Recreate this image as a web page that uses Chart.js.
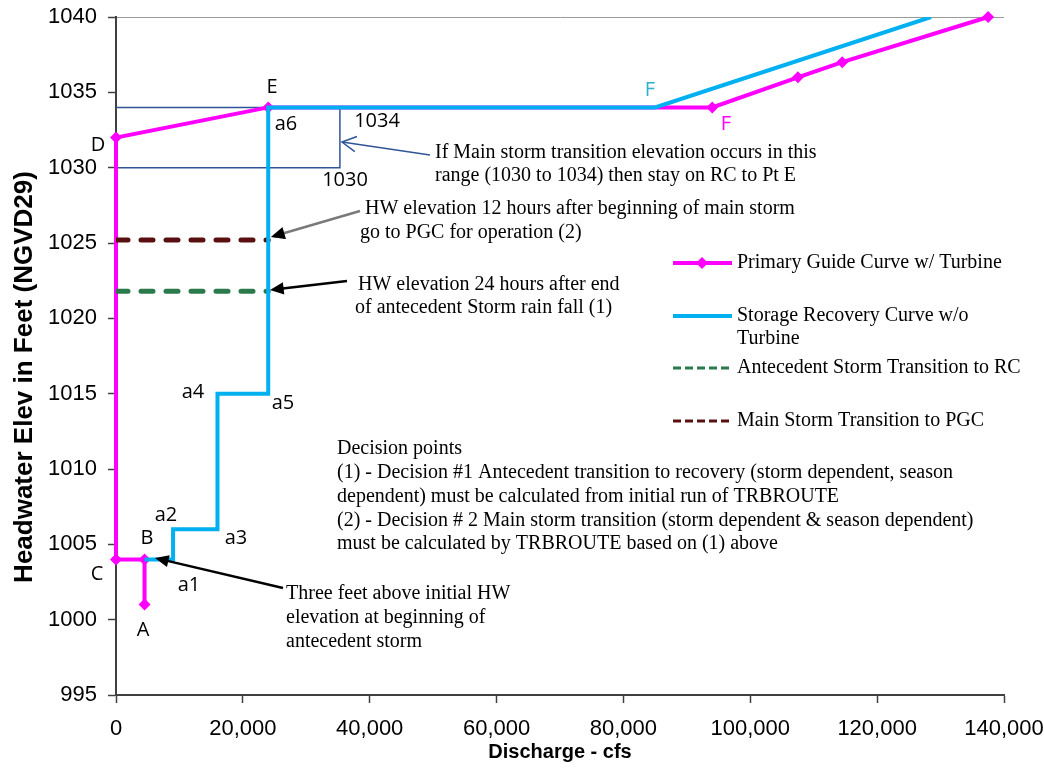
<!DOCTYPE html>
<html>
<head>
<meta charset="utf-8">
<title>Guide curve</title>
<script src="https://cdn.jsdelivr.net/npm/chart.js@4.4.1/dist/chart.umd.min.js"></script>
<style>
    html, body { margin: 0; padding: 0; background: #fff; }
    #wrap { width: 1044px; height: 769px; }
</style>
</head>
<body>
<div id="wrap"><canvas id="guideChart"></canvas></div>
<script>
/*--------------------------------------------------- data ----------------------------------------------------- */

var pgcFlow = [4500, 4500, 0, 0, 24000, 94000, 107500, 114500, 137500]
var pgcElev = [1001, 1004, 1004, 1032, 1034, 1034, 1036, 1037, 1040]

var recFlow = [4500, 9000, 9000, 16000, 16000, 24000, 24000, 85000, 128500]
var recElev = [1004, 1004, 1006, 1006, 1015, 1015, 1034, 1034, 1040]

var antFlow = [0, 24000]
var antElev = [1021.8, 1021.8]

var mainFlow = [0, 24000]
var mainElev = [1025.2, 1025.2]

var rangeFlow = [0, 35300, 35300, 0]
var rangeElev = [1030, 1030, 1034, 1034]

var xTicks = [0, 20000, 40000, 60000, 80000, 100000, 120000, 140000]
var yTicks = [995, 1000, 1005, 1010, 1015, 1020, 1025, 1030, 1035, 1040]

/*--------------------------------------------------- helpers ----------------------------------------------------- */

var MAGENTA = '#ff00ff'
var CYAN = '#00b0f0'
var GREEN = '#2a7a4c'
var DARKRED = '#5a1010'
var NAVY = '#2f5597'
var AXIS = '#404040'
var SANS = '"Liberation Sans", Arial, sans-serif'
var SERIF = '"Liberation Serif", "Times New Roman", serif'
var LABEL = '"Open Sans", sans-serif'

function pairs(xs, ys) {
    return xs.map(function (x, i) { return { x: x, y: ys[i] } })
}

function arrow(ctx, x1, y1, x2, y2, color, width, open) {
    var a = Math.atan2(y2 - y1, x2 - x1)
    var len = open ? 16 : 15
    var spread = open ? 0.5 : 0.42
    ctx.strokeStyle = color
    ctx.fillStyle = color
    ctx.lineWidth = width
    ctx.beginPath()
    ctx.moveTo(x1, y1)
    if (open) ctx.lineTo(x2, y2)
    else ctx.lineTo(x2 - len * 0.7 * Math.cos(a), y2 - len * 0.7 * Math.sin(a))
    ctx.stroke()
    ctx.beginPath()
    ctx.moveTo(x2 - len * Math.cos(a - spread), y2 - len * Math.sin(a - spread))
    ctx.lineTo(x2, y2)
    ctx.lineTo(x2 - len * Math.cos(a + spread), y2 - len * Math.sin(a + spread))
    if (open) {
        ctx.stroke()
    } else {
        ctx.closePath()
        ctx.fill()
    }
}

function lines(ctx, rows, x, y0, step) {
    rows.forEach(function (t, i) { ctx.fillText(t, x, y0 + i * step) })
}

// text, arrows, legend and the y title
var notes = {
    id: 'notes',
    afterDraw: function (chart) {
        var ctx = chart.ctx
        ctx.save()

        // point letters
        ctx.font = '20px ' + LABEL
        ctx.textAlign = 'center'
        ctx.textBaseline = 'middle'
        var marks = [
            ['D', 98, 145, '#000'], ['E', 272, 87, '#000'], ['a6', 286, 124, '#000'],
            ['1034', 377, 121, '#000'], ['1030', 345, 180, '#000'],
            ['F', 650, 90, '#2fb0cc'], ['F', 726, 124, MAGENTA],
            ['a4', 193, 392, '#000'], ['a5', 283, 403, '#000'],
            ['a2', 166, 515, '#000'], ['a3', 236, 538, '#000'], ['B', 147, 538, '#000'],
            ['C', 97, 574, '#000'], ['a1', 189, 585, '#000'], ['A', 143, 630, '#000']
        ]
        marks.forEach(function (m) {
            ctx.fillStyle = m[3]
            ctx.fillText(m[0], m[1], m[2])
        })

        // notes
        ctx.fillStyle = '#000'
        ctx.font = '20px ' + SERIF
        ctx.textAlign = 'left'
        lines(ctx, ['If Main storm transition elevation occurs in this',
            'range (1030 to 1034) then stay on RC to Pt E'], 435, 153, 23)
        ctx.fillText('HW elevation 12 hours after beginning of main storm', 365, 209)
        ctx.fillText('go to PGC for operation (2)', 360, 233)
        ctx.fillText('HW elevation 24 hours after end', 358, 285)
        ctx.fillText('of antecedent Storm rain fall (1)', 355, 308)
        lines(ctx, ['Decision points',
            '(1) - Decision #1 Antecedent transition to recovery (storm dependent, season',
            'dependent) must be calculated from initial run of TRBROUTE',
            '(2) - Decision # 2 Main storm transition (storm dependent & season dependent)',
            'must be calculated by TRBROUTE based on (1) above'], 337, 449, 23.8)
        lines(ctx, ['Three feet above initial HW', 'elevation at beginning of',
            'antecedent storm'], 286, 594, 24)

        // arrows
        arrow(ctx, 430, 155, 342, 142, NAVY, 1.5, true)
        arrow(ctx, 360, 211, 271, 237, '#7a7a7a', 2.5, false)
        ctx.fillStyle = '#000'
        ctx.beginPath()
        var a = Math.atan2(237 - 211, 271 - 360)
        ctx.moveTo(271, 237)
        ctx.lineTo(271 - 15 * Math.cos(a - 0.42), 237 - 15 * Math.sin(a - 0.42))
        ctx.lineTo(271 - 15 * Math.cos(a + 0.42), 237 - 15 * Math.sin(a + 0.42))
        ctx.fill()
        arrow(ctx, 347, 281, 270, 290, '#000', 2.5, false)
        arrow(ctx, 283, 588, 155, 558, '#000', 2.5, false)

        // legend
        var lx = 673, rx = 732, tx = 737
        ctx.lineWidth = 4
        ctx.strokeStyle = MAGENTA
        ctx.beginPath(); ctx.moveTo(lx, 263); ctx.lineTo(rx, 263); ctx.stroke()
        ctx.fillStyle = MAGENTA
        ctx.beginPath()
        ctx.moveTo(702, 257); ctx.lineTo(708, 263); ctx.lineTo(702, 269); ctx.lineTo(696, 263)
        ctx.fill()
        ctx.strokeStyle = CYAN
        ctx.beginPath(); ctx.moveTo(lx, 316); ctx.lineTo(rx, 316); ctx.stroke()
        ctx.lineWidth = 3
        ctx.setLineDash([8, 4])
        ctx.strokeStyle = GREEN
        ctx.beginPath(); ctx.moveTo(lx, 368); ctx.lineTo(rx, 368); ctx.stroke()
        ctx.strokeStyle = DARKRED
        ctx.beginPath(); ctx.moveTo(lx, 421); ctx.lineTo(rx, 421); ctx.stroke()
        ctx.setLineDash([])
        ctx.fillStyle = '#000'
        ctx.fillText('Primary Guide Curve w/ Turbine', tx, 263)
        ctx.fillText('Storage Recovery Curve w/o', tx, 316)
        ctx.fillText('Turbine', tx, 339)
        ctx.fillText('Antecedent Storm Transition to RC', tx, 368)
        ctx.fillText('Main Storm Transition to PGC', tx, 421)

        // y axis title
        ctx.translate(25, 377)
        ctx.rotate(-Math.PI / 2)
        ctx.textAlign = 'center'
        ctx.font = 'bold 26px ' + SANS
        ctx.fillText('Headwater Elev in Feet (NGVD29)', 0, 0)
        ctx.restore()
    }
}

/*--------------------------------------------------- chart ----------------------------------------------------- */

var data = {
    datasets: [
        {
            label: 'Storage Recovery Curve w/o Turbine',
            data: pairs(recFlow, recElev),
            borderColor: CYAN,
            borderWidth: 4,
            pointRadius: 0,
        },
        {
            label: 'Antecedent Storm Transition to RC',
            data: pairs(antFlow, antElev),
            borderColor: GREEN,
            borderWidth: 5,
            borderDash: [12, 13],
            borderCapStyle: 'round',
            pointRadius: 0,
        },
        {
            label: 'Main Storm Transition to PGC',
            data: pairs(mainFlow, mainElev),
            borderColor: DARKRED,
            borderWidth: 5,
            borderDash: [12, 13],
            borderCapStyle: 'round',
            pointRadius: 0,
        },
        {
            label: 'Primary Guide Curve w/ Turbine',
            data: pairs(pgcFlow, pgcElev),
            borderColor: MAGENTA,
            backgroundColor: MAGENTA,
            borderWidth: 4,
            pointStyle: 'rectRot',
            pointRadius: 6,
            pointBorderWidth: 0,
            clip: 10,
        },
        {
            label: 'range',
            data: pairs(rangeFlow, rangeElev),
            borderColor: NAVY,
            borderWidth: 1.5,
            pointRadius: 0,
        },
    ],
}

var config = {
    type: 'scatter',
    data: data,
    options: {
        responsive: true,
        maintainAspectRatio: false,
        animation: false,
        devicePixelRatio: 1,
        showLine: true,
        layout: { padding: { left: 0, right: 40, top: 17, bottom: 0 } },
        plugins: { legend: { display: false }, tooltip: { enabled: false } },
        scales: {
            x: {
                type: 'linear',
                min: 0,
                max: 140000,
                afterBuildTicks: function (s) { s.ticks = xTicks.map(function (v) { return { value: v } }) },
                afterFit: function (s) {
                    s.height = 74
                    s.paddingLeft = 0
                    s.paddingRight = 0
                },
                grid: { drawOnChartArea: false, tickLength: 8, tickColor: AXIS, tickWidth: 1.5 },
                border: { color: AXIS, width: 2 },
                ticks: {
                    font: { family: SANS, size: 22 },
                    color: '#000',
                    padding: 13,
                    maxRotation: 0,
                    callback: function (v) { return v.toLocaleString('en-US') },
                },
                title: {
                    display: true,
                    text: 'Discharge - cfs',
                    color: '#000',
                    font: { family: SANS, size: 20, weight: 'bold' },
                    padding: { top: 0, bottom: 5 },
                },
            },
            y: {
                type: 'linear',
                min: 995,
                max: 1040,
                afterBuildTicks: function (s) { s.ticks = yTicks.map(function (v) { return { value: v } }) },
                afterFit: function (s) {
                    s.width = 116
                    s.paddingTop = 0
                    s.paddingBottom = 0
                },
                grid: {
                    color: function (c) { return c.tick && c.tick.value === 1040 ? '#9a9a9a' : 'rgba(0,0,0,0)' },
                    tickColor: AXIS,
                    tickLength: 8,
                    tickWidth: 1.5,
                },
                border: { color: AXIS, width: 2 },
                ticks: {
                    font: { family: SANS, size: 22 },
                    color: '#000',
                    padding: 11,
                    callback: function (v) { return String(v) },
                },
            },
        },
    },
    plugins: [notes],
}

var canvas = document.getElementById('guideChart')
var chart = new Chart(canvas, config)
</script>
</body>
</html>
